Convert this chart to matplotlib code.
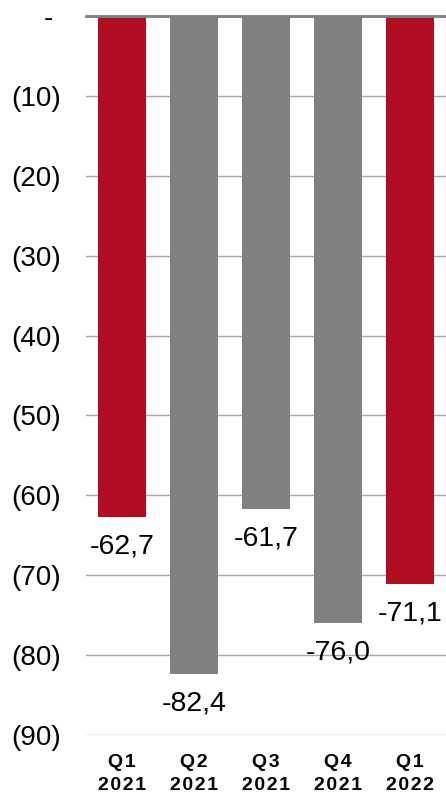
import matplotlib
matplotlib.use("Agg")
import matplotlib.pyplot as plt

categories = ["Q\u200a1\n2\u200a0\u200a2\u200a1", "Q\u200a2\n2\u200a0\u200a2\u200a1", "Q\u200a3\n2\u200a0\u200a2\u200a1",
              "Q\u200a4\n2\u200a0\u200a2\u200a1", "Q\u200a1\n2\u200a0\u200a2\u200a2"]
values = [-62.7, -82.4, -61.7, -76.0, -71.1]
colors = ["#B10D21", "#808080", "#808080", "#808080", "#B10D21"]
yticks = [0, -10, -20, -30, -40, -50, -60, -70, -80, -90]
ytick_labels = ["- ", "(10)", "(20)", "(30)", "(40)", "(50)", "(60)", "(70)", "(80)", "(90)"]

plt.rcParams['font.family'] = ['Liberation Sans', 'DejaVu Sans']

fig = plt.figure(figsize=(4.46, 7.94), dpi=100)
ax = fig.add_axes([86/446, 59/794, 360/446, 719/794])

x = list(range(len(categories)))
ax.bar(x, values, width=0.66, color=colors, zorder=3)

for xi, v in zip(x, values):
    ax.annotate(f"{v:.1f}".replace(".", ","), (xi, v), xytext=(0, -12), textcoords="offset points",
                ha="center", va="top", fontsize=20.5, color="black", zorder=4)

ax.set_xlim(-0.5, 4.5)
ax.set_ylim(-90, 0)
ax.set_yticks(yticks)
ax.set_yticklabels(ytick_labels, fontsize=20)
ax.yaxis.grid(True, color="#A6A6A6", linewidth=1.0, zorder=0)
ax.set_xticks(x)
ax.set_xticklabels(categories, fontsize=14, fontweight="bold", linespacing=1.4)
ax.tick_params(axis="both", length=0)
ax.tick_params(axis="y", pad=18)
ax.tick_params(axis="x", pad=14)
for s in ["left", "right", "bottom"]:
    ax.spines[s].set_visible(False)
ax.spines["top"].set_color("#808080")
ax.spines["top"].set_linewidth(2)
ax.spines["top"].set_zorder(5)

fig.savefig("out.png", dpi=100)
